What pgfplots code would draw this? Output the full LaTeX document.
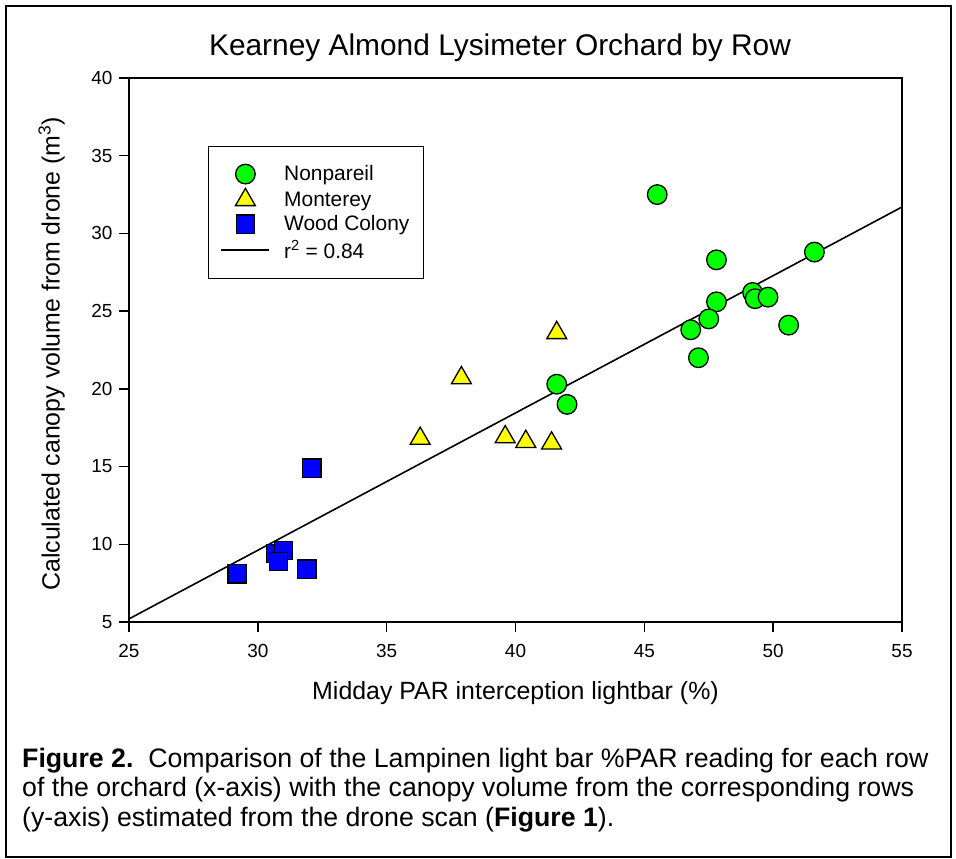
\documentclass[border=0pt]{standalone}
\usepackage{fontspec}
\setmainfont{Liberation Sans}
\usepackage{pgfplots}
\pgfplotsset{compat=1.18}

\definecolor{npgreen}{RGB}{0,255,0}
\definecolor{mtyellow}{RGB}{255,255,0}
\definecolor{wcblue}{RGB}{0,0,255}

\begin{document}
\begin{tikzpicture}
\path[use as bounding box] (0bp,0bp) rectangle (956bp,859bp);
\draw[line width=2.5bp] (6bp,2bp) rectangle (951bp,853bp);

\begin{axis}[at={(129bp,237bp)}, anchor=south west, scale only axis,
  width=773bp, height=544bp,
  xmin=25, xmax=55, ymin=5, ymax=40,
  xtick={25,30,...,55}, ytick={5,10,...,40},
  tick pos=left, tick align=outside, major tick length=10bp,
  tick style={black, line width=1.5bp},
  axis line style={line width=1.6bp},
  /pgf/number format/assume math mode=true,
  ticklabel style={font=\fontsize{19}{22}\selectfont},
  xticklabel style={yshift=-9bp},
  yticklabel style={xshift=-3bp},
  title={Kearney Almond Lysimeter Orchard by Row},
  title style={font=\fontsize{30}{34}\selectfont, at={(axis description cs:0.48,1.044)}, anchor=center},
  xlabel={Midday PAR interception lightbar (\%)},
  xlabel style={font=\fontsize{25}{29}\selectfont, at={(axis description cs:0.5,-0.13)}, anchor=center},
  ylabel={Calculated canopy volume from drone (m\textsuperscript{3})},
  ylabel style={font=\fontsize{25}{29}\selectfont, at={(axis description cs:-0.1,0.493)}, anchor=center},
  legend image code/.code={\draw[mark repeat=2,mark phase=2,#1] plot coordinates {(0bp,0bp)(24bp,0bp)(48bp,0bp)};},
  legend style={at={(axis description cs:0.102,0.875)}, anchor=north west, draw=black,
    line width=1.5bp, inner xsep=12bp, inner ysep=17bp,
    font=\fontsize{21}{24}\selectfont, row sep=4bp, column sep=12bp},
  legend cell align=left,
]
% Nonpareil
\addplot[only marks, mark=*, mark size=9.8bp, mark options={fill=npgreen, draw=black, line width=1.3bp}]
  coordinates {(45.5,32.5)(47.8,28.3)(51.6,28.8)(47.8,25.6)(47.5,24.5)(46.8,23.8)(47.1,22.0)
  (49.2,26.2)(49.3,25.8)(49.8,25.9)(50.6,24.1)(41.6,20.3)(42.0,19.0)};
% Monterey
\addplot[only marks, mark=triangle*, mark size=11.5bp, mark options={fill=mtyellow, draw=black, line width=1.3bp}]
  coordinates {(41.6,23.6)(37.9,20.7)(36.3,16.8)(39.6,16.9)(40.4,16.6)(41.4,16.5)};
% Wood Colony
\addplot[only marks, mark=square*, mark size=9.2bp, mark options={fill=wcblue, draw=black, line width=1.3bp}]
  coordinates {(32.1,14.9)(29.2,8.1)(30.7,9.4)(31.0,9.6)(30.8,8.9)(31.9,8.4)};
% regression
\addplot[black, line width=1.6bp, no marks] coordinates {(25,5.2)(55,31.7)};
\legend{Nonpareil, Monterey, Wood Colony, r\textsuperscript{2} = 0.84}
\end{axis}

\node[anchor=base west, align=left, font=\fontsize{26.8}{29.5}\selectfont, inner sep=0pt] at (22bp,33bp)
  {\textbf{Figure 2.}\ \ Comparison of the Lampinen light bar \%PAR reading for each row\\
   of the orchard (x-axis) with the canopy volume from the corresponding rows\\
   (y-axis) estimated from the drone scan (\textbf{Figure 1}).};
\end{tikzpicture}
\end{document}
